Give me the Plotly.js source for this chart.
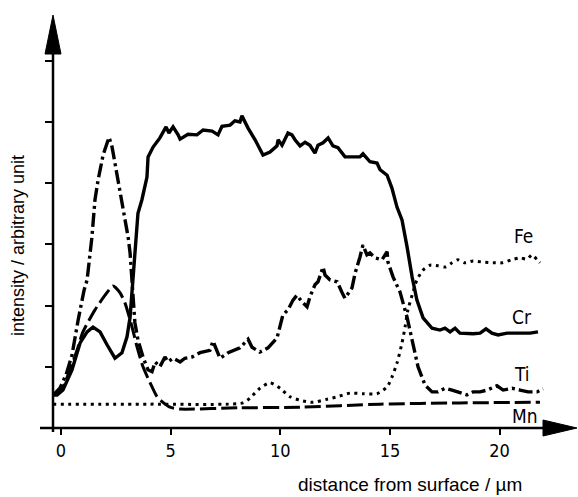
<!DOCTYPE html>
<html>
<head>
<meta charset="utf-8">
<script src="https://cdn.plot.ly/plotly-3.0.1.min.js"></script>
<style>html,body{margin:0;padding:0;background:#fff;}#chart{width:578px;height:497px;}</style>
</head>
<body>
<div id="chart"></div>
<script>
// ---- data (distance in µm, intensity in arbitrary units) ----
const xTicks = [0, 5, 10, 15, 20];
const xTickLabels = ["0", "5", "10", "15", "20"];
const yTicks = [1, 2, 3, 4, 5, 6];

const crX = [-0.36,-0.18,0.09,0.50,0.87,1.19,1.46,1.78,2.10,2.46,2.78,3.01,3.15,3.24,3.37,3.51,3.69,3.92,3.97,4.20,4.51,4.79,4.92,5.11,5.34,5.43,5.79,6.20,6.48,6.89,7.16,7.34,7.71,7.93,8.16,8.25,8.53,8.85,9.21,9.53,9.85,9.90,10.08,10.35,10.53,10.67,10.90,11.13,11.35,11.58,11.72,11.95,12.18,12.40,12.63,12.95,13.27,13.63,13.77,14.09,14.41,14.55,14.87,15.09,15.32,15.55,15.78,16.01,16.23,16.51,16.92,17.28,17.51,17.74,17.97,18.19,18.79,19.11,19.38,19.65,19.93,20.34,20.93,21.39,21.75];
const crY = [0.54,0.54,0.62,0.95,1.39,1.57,1.65,1.57,1.36,1.14,1.23,1.49,1.81,2.25,2.96,3.51,3.73,4.10,4.43,4.59,4.74,4.92,4.82,4.92,4.79,4.72,4.80,4.79,4.87,4.85,4.79,4.93,4.95,5.02,5.00,5.10,4.90,4.71,4.46,4.51,4.61,4.71,4.62,4.82,4.79,4.71,4.61,4.67,4.62,4.49,4.62,4.66,4.74,4.61,4.58,4.43,4.43,4.43,4.48,4.35,4.33,4.22,4.13,3.92,3.61,3.40,2.96,2.47,2.09,1.80,1.63,1.60,1.63,1.57,1.63,1.55,1.54,1.55,1.62,1.55,1.52,1.55,1.55,1.55,1.57];

const tiX = [-0.36,-0.05,0.23,0.50,0.78,1.05,1.19,1.41,1.55,1.69,1.92,2.10,2.19,2.33,2.55,2.69,2.92,3.06,3.15,3.24,3.28,3.37,3.51,3.74,3.97,4.15,4.29,4.51,4.74,4.88,5.11,5.43,5.65,5.97,6.34,6.79,6.93,7.25,7.62,8.16,8.53,8.71,9.07,9.44,9.85,9.99,10.12,10.35,10.58,10.76,10.99,11.22,11.35,11.58,11.72,11.95,12.04,12.27,12.59,12.81,12.95,13.27,13.41,13.63,13.77,13.95,14.09,14.32,14.64,14.87,14.91,15.14,15.46,15.78,16.01,16.28,16.60,16.92,17.19,17.51,17.83,18.19,18.51,18.79,19.11,19.43,19.88,20.16,20.57,20.93,21.30,21.71,21.98];
const tiY = [0.54,0.65,0.87,1.19,1.76,2.25,2.42,3.12,3.73,4.05,4.46,4.66,4.75,4.59,4.17,3.89,3.45,3.12,2.86,2.42,2.14,1.72,1.44,1.16,0.95,0.92,1.08,1.00,1.16,1.08,1.14,1.08,1.14,1.16,1.23,1.27,1.42,1.14,1.23,1.31,1.45,1.32,1.24,1.31,1.47,1.65,1.85,1.93,2.09,2.17,2.06,1.98,2.14,2.34,2.39,2.63,2.50,2.42,2.39,2.22,2.12,2.29,2.53,2.79,2.99,2.83,2.86,2.78,2.75,2.88,2.71,2.47,2.22,1.81,1.44,1.00,0.70,0.59,0.59,0.65,0.62,0.57,0.54,0.59,0.59,0.62,0.69,0.62,0.65,0.62,0.59,0.59,0.64];

const mnX = [-0.36,0.05,0.41,0.73,1.00,1.55,2.01,2.37,2.69,2.92,3.24,3.47,3.74,4.06,4.38,4.65,4.97,5.43,8.16,10.90,14.55,18.19,21.84];
const mnY = [0.54,0.65,0.95,1.27,1.57,1.93,2.17,2.32,2.21,2.04,1.65,1.32,1.00,0.74,0.51,0.42,0.34,0.31,0.33,0.34,0.39,0.41,0.42];

const feX = [-0.36,4.06,8.30,8.62,9.07,9.53,9.99,10.44,11.04,11.49,12.13,12.59,13.18,13.77,14.41,14.87,15.09,15.32,15.55,15.69,15.82,16.01,16.23,16.51,16.83,17.19,17.51,17.83,18.10,18.42,18.79,19.24,19.70,20.11,20.57,20.93,21.25,21.48,21.71,21.84];
const feY = [0.39,0.39,0.41,0.49,0.65,0.74,0.65,0.51,0.44,0.42,0.47,0.51,0.57,0.56,0.56,0.67,0.83,1.06,1.39,1.65,1.93,2.17,2.42,2.58,2.66,2.65,2.63,2.70,2.75,2.70,2.73,2.71,2.70,2.70,2.75,2.78,2.76,2.83,2.75,2.70];

const seriesNames = ["Fe", "Cr", "Ti", "Mn"];
const labelX = [21.07, 21.02, 21.02, 21.16];
const labelY = [3.14, 1.81, 0.88, 0.20];

// ---- layout helpers (pixel -> paper) ----
const W = 578, H = 497;
const M = {l: 53, r: 1, t: 15, b: 69};
const PW = W - M.l - M.r, PH = H - M.t - M.b;
const px = x => (x - M.l) / PW;
const py = y => (H - M.b - y) / PH;

const traces = [
  {x: feX, y: feY, mode: "lines", name: "Fe", line: {color: "#000", width: 3, dash: "3px,4.5px", shape: "spline", smoothing: 0.6}},
  {x: crX, y: crY, mode: "lines", name: "Cr", line: {color: "#000", width: 3.4, shape: "linear"}},
  {x: tiX, y: tiY, mode: "lines", name: "Ti", line: {color: "#000", width: 3.4, dash: "14px,4px,3px,4px", shape: "linear"}},
  {x: mnX, y: mnY, mode: "lines", name: "Mn", line: {color: "#000", width: 3, dash: "16px,5px", shape: "spline", smoothing: 0.6}}
];

const lblFont = {family: "DejaVu Sans Condensed, DejaVu Sans, sans-serif", size: 19, color: "#000"};
const annotations = seriesNames.map((n, i) => ({
  x: labelX[i], y: labelY[i], xref: "x", yref: "y", text: n, showarrow: false,
  font: lblFont, xanchor: "center", yanchor: "middle"
}));
annotations.push({
  x: px(410), y: py(485), xref: "paper", yref: "paper", text: "distance from surface / µm",
  showarrow: false, xanchor: "center", yanchor: "middle",
  font: {family: "Liberation Sans, Arial, sans-serif", size: 19, color: "#000"}
});
annotations.push({
  x: px(18), y: py(246), xref: "paper", yref: "paper", text: "intensity / arbitrary unit",
  showarrow: false, xanchor: "center", yanchor: "middle", textangle: -90,
  font: {family: "Liberation Sans, Arial, sans-serif", size: 18, color: "#000"}
});

const shapes = [
  {type: "line", xref: "paper", yref: "paper", x0: px(40), x1: px(550), y0: py(428), y1: py(428), line: {color: "#000", width: 2.5}},
  {type: "path", xref: "paper", yref: "paper",
   path: `M ${px(577)} ${py(428)} L ${px(543)} ${py(420)} L ${px(543)} ${py(436)} Z`,
   fillcolor: "#000", line: {color: "#000", width: 1}},
  {type: "line", xref: "paper", yref: "paper", x0: px(53), x1: px(53), y0: py(432), y1: py(50), line: {color: "#000", width: 2.5}},
  {type: "path", xref: "paper", yref: "paper",
   path: `M ${px(53)} ${py(15)} L ${px(45)} ${py(54)} L ${px(61)} ${py(54)} Z`,
   fillcolor: "#000", line: {color: "#000", width: 1}}
];

const layout = {
  width: W, height: H,
  margin: M,
  paper_bgcolor: "#fff", plot_bgcolor: "#fff",
  showlegend: false,
  xaxis: {
    range: [(M.l - 61) / 21.93, (W - M.r - 61) / 21.93],
    tickvals: xTicks, ticktext: xTickLabels,
    ticks: "outside", ticklen: 6, tickwidth: 2, tickcolor: "#000",
    showline: false, zeroline: false, showgrid: false,
    tickfont: {family: "DejaVu Sans Condensed, DejaVu Sans, sans-serif", size: 18, color: "#000"}
  },
  yaxis: {
    range: [0, (H - M.b - M.t) / 61.2],
    tickvals: yTicks, ticks: "outside", ticklen: 7, tickwidth: 2, tickcolor: "#000",
    showticklabels: false, showline: false, zeroline: false, showgrid: false
  },
  shapes: shapes,
  annotations: annotations
};

Plotly.newPlot("chart", traces, layout, {staticPlot: true, displayModeBar: false});
</script>
</body>
</html>
